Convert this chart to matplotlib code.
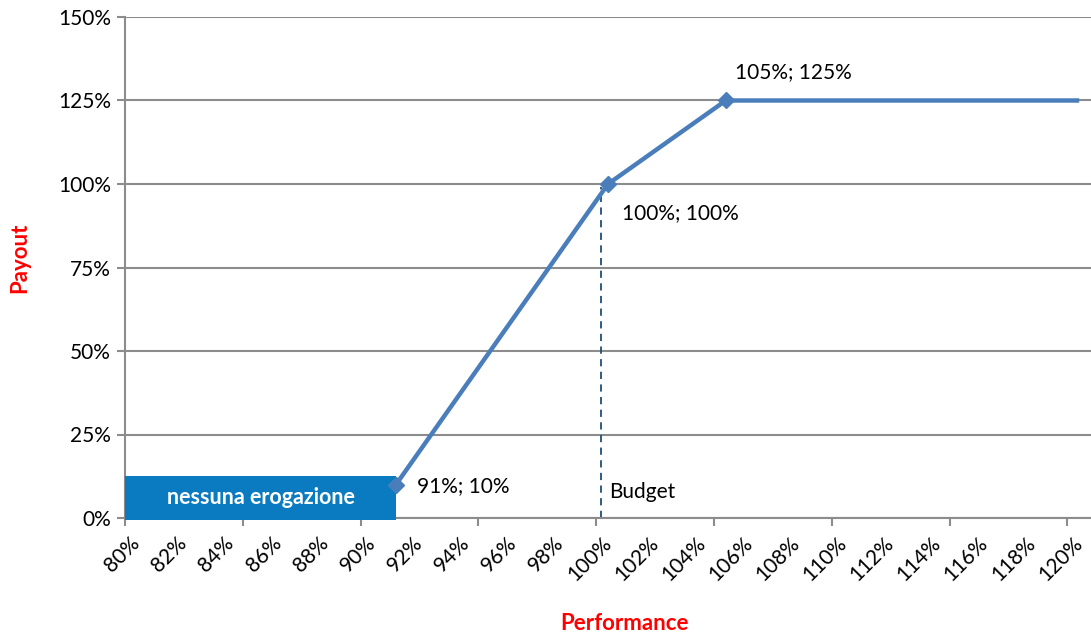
import matplotlib.pyplot as plt
import numpy as np

# Dati
performance = [91, 100, 105, 120]
payout = [10, 100, 125, 125]
labelled = [0, 1, 2]          # punti con marker ed etichetta
x_labels = list(range(80, 121, 2))
y_ticks = [0, 25, 50, 75, 100, 125, 150]
budget_x = 99.7

line_blue = '#4a7ebb'
box_blue = '#0a7bc1'
grid_grey = '#8c8c8c'

plt.rcParams['font.family'] = ['Lato', 'DejaVu Sans']

fig = plt.figure(figsize=(10.91, 6.39), dpi=100)
ax = fig.add_axes([125 / 1091, 1 - 518 / 639, 1 - 125 / 1091, (518 - 17) / 639])

ax.set_xlim(79.5, 120.5)
ax.set_ylim(0, 150)

# Griglia orizzontale
ax.set_yticks(y_ticks)
ax.set_yticklabels([f'{v}%' for v in y_ticks], fontsize=15)
ax.yaxis.grid(True, color=grid_grey, linewidth=1.5)
ax.set_axisbelow(True)

# Asse x: tacche ai confini, etichette al centro
ax.set_xticks(np.arange(79.5, 120.6, 5))
ax.set_xticklabels([])
ax.set_xticks(x_labels, minor=True)
ax.set_xticklabels([f'{v}%' for v in x_labels], minor=True, rotation=45,
                   ha='right', va='center', rotation_mode='anchor', fontsize=15)
ax.tick_params(axis='x', which='minor', length=0, pad=16)
ax.tick_params(axis='x', which='major', length=6, color=grid_grey, width=1.5)
ax.tick_params(axis='y', length=6, color=grid_grey, width=1.5, pad=4)

for side in ['top', 'right']:
    ax.spines[side].set_visible(False)
for side in ['left', 'bottom']:
    ax.spines[side].set_color(grid_grey)
    ax.spines[side].set_linewidth(1.5)

# Riquadro "nessuna erogazione"
ax.add_patch(plt.Rectangle((79.5, -0.5), 91 - 79.5, 13, facecolor=box_blue,
                           edgecolor='none', zorder=3, clip_on=False))
ax.text((79.5 + 91) / 2, 6.0, 'nessuna erogazione', color='white', fontsize=15.5,
        fontweight='bold', ha='center', va='center', zorder=4)

# Linea budget
ax.plot([budget_x, budget_x], [0, 99], color='#1f4e79', linestyle=(0, (4, 3)),
        linewidth=1.3, zorder=2)
ax.text(budget_x + 0.35, 7.8, 'Budget', fontsize=15, ha='left', va='center')

# Curva payout
ax.plot(performance, payout, color=line_blue, linewidth=3.2, marker='D',
        markersize=8, markevery=labelled, solid_capstyle='butt', zorder=5)

# Etichette dati
ax.text(91.9, 9.5, '91%; 10%', fontsize=15, ha='left', va='center')
ax.text(100.6, 91.3, '100%; 100%', fontsize=15, ha='left', va='center')
ax.text(105.4, 133.5, '105%; 125%', fontsize=15, ha='left', va='center')

# Titoli assi
fig.text(20 / 1091, 1 - 258 / 639, 'Payout', color='red', fontsize=16,
         fontweight='bold', rotation=90, ha='center', va='center')
fig.text(625 / 1091, 1 - 623 / 639, 'Performance', color='red', fontsize=16,
         fontweight='bold', ha='center', va='center')

fig.savefig('out.png', dpi=100, facecolor='white')
